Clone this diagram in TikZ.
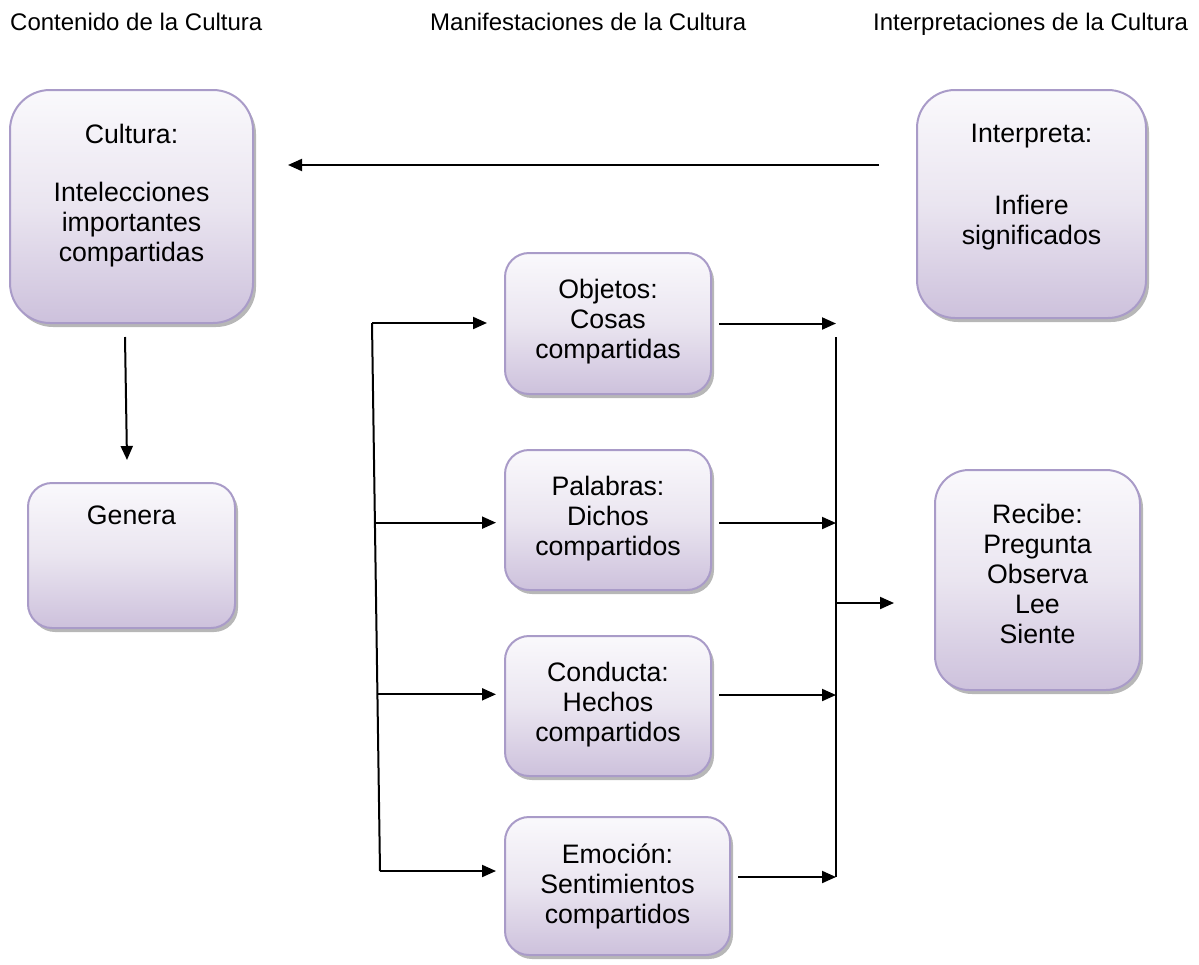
\documentclass[tikz,border=0pt]{standalone}
\usepackage{fontspec}
\setmainfont{Liberation Sans}
\usetikzlibrary{arrows.meta,shadows,calc}
\definecolor{boxtop}{HTML}{FAF9FC}
\definecolor{boxmid}{HTML}{EAE5F0}
\definecolor{boxbot}{HTML}{CDC1DC}
\definecolor{boxline}{HTML}{A99BC8}
\begin{document}
\begin{tikzpicture}[x=1pt,y=-1pt,
  cbox/.style={rectangle, rounded corners=#1, draw=boxline, line width=2pt,
    top color=boxtop, bottom color=boxbot, middle color=boxmid,
    drop shadow={shadow xshift=3pt,shadow yshift=-4pt,fill=black!40,opacity=0.7},
    inner sep=0pt},
  cbox/.default=24pt,
  txt/.style={font=\fontsize{26.7}{30}\selectfont, align=center, inner sep=0pt, anchor=north},
  hdr/.style={font=\fontsize{24}{28}\selectfont, anchor=base west, inner sep=0pt},
  ln/.style={line width=2pt},
  arr/.style={line width=2pt, -{Triangle[length=14pt,width=12pt]}}]

\useasboundingbox (0,0) rectangle (1199,964);

% column titles
\node[hdr] (h1) at (10,30) {Contenido de la Cultura};
\node[hdr] (h2) at (430,30) {Manifestaciones de la Cultura};
\node[hdr] (h3) at (873,30) {Interpretaciones de la Cultura};

% boxes
\node[cbox=40pt, minimum width=243pt, minimum height=233pt] (cultura) at (131.5,206.5) {};
\node[cbox=24pt, minimum width=207pt, minimum height=145pt] (genera) at (131.5,555.5) {};
\node[cbox=38pt, minimum width=229pt, minimum height=228pt] (interpreta) at (1031.5,204) {};
\node[cbox=24pt, minimum width=206pt, minimum height=141pt] (objetos) at (608,323.5) {};
\node[cbox=24pt, minimum width=206pt, minimum height=140pt] (palabras) at (608,520) {};
\node[cbox=24pt, minimum width=206pt, minimum height=140pt] (conducta) at (608,706) {};
\node[cbox=24pt, minimum width=225pt, minimum height=138pt] (emocion) at (617.5,886) {};
\node[cbox=34pt, minimum width=205pt, minimum height=220pt] (recibe) at (1037.5,580) {};

% box texts
\node[txt] (cultura-t) at ($(cultura.north)+(0,35)$) {Cultura:\\[28pt]Intelecciones\\importantes\\compartidas};
\node[txt] (genera-t) at ($(genera.north)+(0,24)$) {Genera};
\node[txt] (interpreta-t) at ($(interpreta.north)+(0,35)$) {Interpreta:\\[42pt]Infiere\\significados};
\node[txt] (objetos-t) at ($(objetos.north)+(0,27)$) {Objetos:\\Cosas\\compartidas};
\node[txt] (palabras-t) at ($(palabras.north)+(0,27)$) {Palabras:\\Dichos\\compartidos};
\node[txt] (conducta-t) at ($(conducta.north)+(0,27)$) {Conducta:\\Hechos\\compartidos};
\node[txt] (emocion-t) at ($(emocion.north)+(0,28)$) {Emoción:\\Sentimientos\\compartidos};
\node[txt] (recibe-t) at ($(recibe.north)+(0,35)$) {Recibe:\\Pregunta\\Observa\\Lee\\Siente};

% interpretation feeds back into culture
\draw[arr] ($(interpreta.west)+(-37,-39)$) -- ($(cultura.east)+(34,-41.5)$);
% culture generates
\draw[arr] ($(cultura.south)+(-6.5,13)$) -- ($(genera.north)+(-4.5,-22)$);

% left distribution bracket
\coordinate (lt) at ($(objetos.west)+(-132,-0.5)$);
\coordinate (lb) at ($(emocion.west)+(-124,-15)$);
\coordinate (b2) at ($(lt)!0.3643!(lb)$);
\coordinate (b3) at ($(lt)!0.6776!(lb)$);
\draw[ln] (lt) -- (lb);
\draw[arr] (lt) -- ($(objetos.west |- lt)+(-17,0)$);
\draw[arr] (b2) -- ($(palabras.west |- b2)+(-8,0)$);
\draw[arr] (b3) -- ($(conducta.west |- b3)+(-8,0)$);
\draw[arr] (lb) -- ($(emocion.west |- lb)+(-8,0)$);

% right collecting bracket
\coordinate (rt) at ($(objetos.east)+(124,13.5)$);
\coordinate (rb) at ($(rt |- emocion.east)+(0,-9)$);
\coordinate (rm) at ($(rt |- recibe.west)+(0,23)$);
\draw[ln] (rt) -- (rb);
\draw[arr] ($(objetos.east)+(7,0)$) -- (rt |- objetos.east);
\draw[arr] ($(palabras.east)+(7,3)$) -- ($(rt |- palabras.east)+(0,3)$);
\draw[arr] ($(conducta.east)+(7,-11)$) -- ($(rt |- conducta.east)+(0,-11)$);
\draw[arr] ($(emocion.east)+(7,-9)$) -- (rb);
\draw[arr] (rm) -- ($(recibe.west |- rm)+(-40,0)$);
\end{tikzpicture}
\end{document}
